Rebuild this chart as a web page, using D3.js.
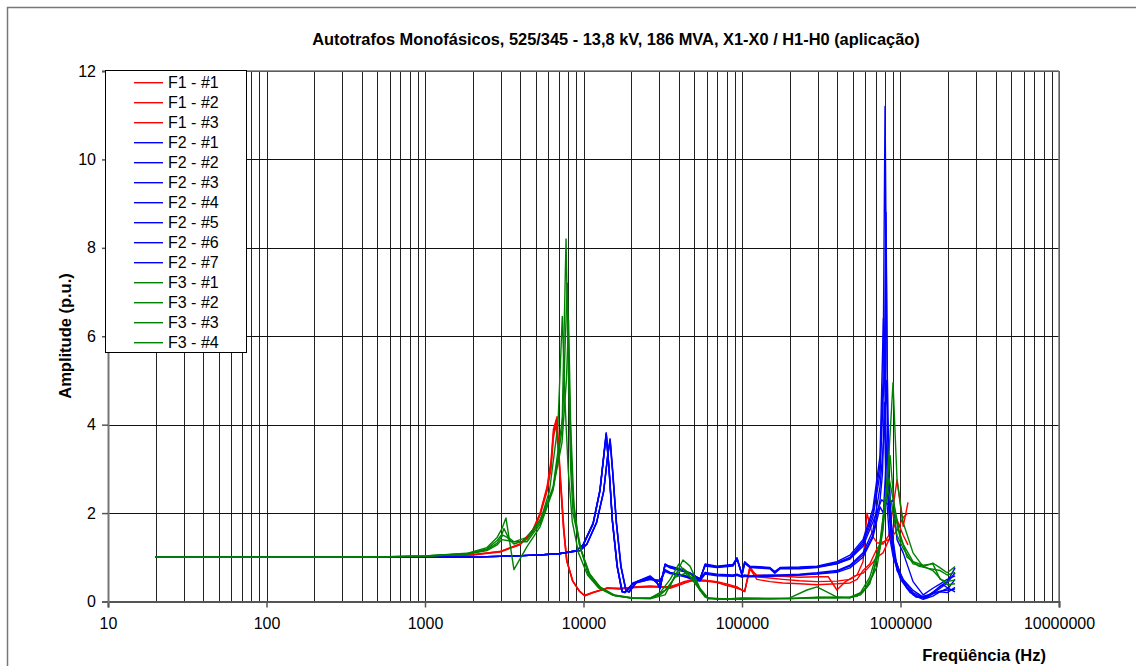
<!DOCTYPE html>
<html><head><meta charset="utf-8">
<script src="https://cdn.jsdelivr.net/npm/d3@7"></script>
<style>body{margin:0;background:#fff;} svg{display:block;font-family:"Liberation Sans",Arial,sans-serif;}</style>
</head><body><svg id="c" width="1136" height="666"></svg>
<script>
const chartTitle = "Autotrafos Monofásicos, 525/345 - 13,8 kV, 186 MVA, X1-X0 / H1-H0 (aplicação)";
const xTitle = "Freqüência (Hz)";
const yTitle = "Amplitude (p.u.)";
const xTickValues = [10, 100, 1000, 10000, 100000, 1000000, 10000000];
const yTickValues = [0, 2, 4, 6, 8, 10, 12];
const seriesNames = ["F1 - #1","F1 - #2","F1 - #3","F2 - #1","F2 - #2","F2 - #3","F2 - #4","F2 - #5","F2 - #6","F2 - #7","F3 - #1","F3 - #2","F3 - #3","F3 - #4"];
const seriesGroup = ["F1","F1","F1","F2","F2","F2","F2","F2","F2","F2","F3","F3","F3","F3"];

// [frequency Hz, amplitude p.u.]
const F1_1 = [[20,1],[100,1],[300,1],[1000,1.02],[2000,1.06],[2970,1.13],[3970,1.3],[4790,1.62],[5320,2.0],[5890,2.6],[6240,3.2],[6460,3.9],[6810,4.18],[7100,3.0],[7540,1.6],[7870,0.9],[8590,0.45],[9500,0.22],[10200,0.13],[11500,0.2],[14100,0.31],[17000,0.29],[20500,0.33],[26300,0.35],[30400,0.33],[35200,0.3],[42400,0.4],[49100,0.49],[58500,0.47],[69500,0.45],[80000,0.4],[93000,0.33],[104000,0.22],[112000,0.79],[124000,0.56],[150000,0.53],[181000,0.5],[230000,0.47],[297000,0.45],[397000,0.46],[480000,0.5],[532000,0.6],[580000,0.9],[615000,2.0],[670000,1.46],[711000,1.33],[776000,1.3],[846000,1.5],[951000,2.75],[1040000,1.7],[1115000,2.24]];
const F1_2 = [[20,1],[100,1],[300,1],[1000,1.02],[2000,1.05],[2970,1.12],[3970,1.28],[4790,1.58],[5320,1.95],[5890,2.5],[6240,3.0],[6460,3.7],[6700,4.02],[7000,3.2],[7450,1.7],[7800,0.95],[8500,0.48],[9400,0.24],[10100,0.14],[11500,0.21],[14100,0.3],[17000,0.3],[20500,0.32],[26300,0.33],[30400,0.32],[35200,0.34],[42400,0.42],[49100,0.47],[58500,0.46],[69500,0.43],[80000,0.37],[93000,0.3],[104000,0.24],[112000,0.72],[124000,0.6],[150000,0.58],[181000,0.57],[230000,0.55],[297000,0.56],[350000,0.56],[397000,0.26],[450000,0.45],[516000,0.58],[580000,0.64],[640000,0.8],[711000,1.0],[776000,1.1],[846000,1.4],[951000,1.85],[1040000,1.5],[1115000,1.28]];
const F1_3 = [[20,1],[100,1],[300,1],[1000,1.02],[2000,1.06],[2970,1.13],[3970,1.29],[4790,1.6],[5320,1.98],[5890,2.55],[6240,3.1],[6460,3.8],[6750,4.1],[7050,3.1],[7500,1.65],[7850,0.92],[8550,0.46],[9450,0.23],[10150,0.13],[11500,0.2],[14100,0.3],[17000,0.28],[20500,0.31],[26300,0.34],[30400,0.34],[35200,0.32],[42400,0.44],[49100,0.5],[58500,0.48],[69500,0.44],[80000,0.36],[93000,0.32],[104000,0.23],[112000,0.75],[124000,0.5],[150000,0.45],[181000,0.42],[230000,0.4],[297000,0.38],[397000,0.4],[480000,0.42],[532000,0.5],[580000,0.7],[640000,0.85],[711000,1.2],[776000,1.35],[846000,1.4],[951000,1.6],[1040000,1.9],[1115000,2.0]];

const F2_1 = [[20,1],[100,1],[500,1],[1000,1],[2000,1.01],[3000,1.02],[5000,1.05],[7000,1.08],[9000,1.15],[9930,1.28],[11500,1.78],[12700,2.53],[13500,3.4],[13900,3.82],[14500,3.0],[15200,1.85],[16300,0.8],[17500,0.22],[18300,0.2],[20500,0.42],[26300,0.56],[29000,0.42],[30400,0.3],[32700,0.85],[35200,0.78],[42400,0.7],[47000,0.65],[54300,0.5],[58500,0.83],[69500,0.79],[87700,0.83],[93000,0.98],[100000,0.62],[104000,0.9],[112000,0.79],[150000,0.76],[161000,0.66],[174000,0.76],[230000,0.76],[297000,0.79],[397000,0.88],[480000,1.0],[580000,1.35],[670000,2.0],[743000,3.1],[776000,5.0],[799000,11.2],[822000,5.5],[846000,2.6],[897000,1.2],[951000,0.7],[1040000,0.49],[1200000,0.2],[1390000,0.08],[1600000,0.2],[1780000,0.35],[1970000,0.45],[2210000,0.76]];
const F2_2 = [[20,1],[100,1],[500,1],[1000,1],[2000,1.01],[3000,1.02],[5000,1.05],[7000,1.08],[9000,1.15],[9930,1.27],[11500,1.75],[12700,2.5],[13500,3.35],[13950,3.78],[14550,2.95],[15250,1.8],[16400,0.78],[17600,0.23],[18400,0.21],[20500,0.4],[26300,0.54],[29000,0.44],[30400,0.32],[32700,0.82],[35200,0.76],[42400,0.68],[47000,0.63],[54300,0.52],[58500,0.8],[69500,0.77],[87700,0.8],[93000,0.95],[100000,0.6],[104000,0.86],[112000,0.77],[150000,0.74],[161000,0.64],[174000,0.74],[230000,0.74],[297000,0.77],[397000,0.85],[480000,0.98],[580000,1.3],[670000,1.9],[743000,2.9],[790000,5.2],[810000,8.8],[830000,4.2],[860000,2.0],[920000,1.0],[1000000,0.55],[1100000,0.3],[1250000,0.12],[1450000,0.1],[1650000,0.25],[1850000,0.38],[2000000,0.3],[2210000,0.5]];
const F2_3 = [[20,1],[100,1],[500,1],[1000,1],[2000,1.01],[3000,1.02],[5000,1.05],[7000,1.08],[9500,1.15],[10500,1.3],[12100,1.8],[13400,2.5],[14200,3.3],[14700,3.68],[15300,2.9],[16100,1.8],[17200,0.8],[18500,0.25],[19300,0.22],[21600,0.45],[26300,0.58],[29000,0.45],[30400,0.28],[32700,0.83],[35200,0.8],[42400,0.72],[47000,0.62],[54300,0.48],[58500,0.85],[69500,0.8],[87700,0.84],[93000,0.99],[100000,0.6],[104000,0.88],[112000,0.8],[150000,0.77],[161000,0.68],[174000,0.77],[230000,0.78],[297000,0.8],[397000,0.9],[480000,1.05],[580000,1.4],[670000,2.1],[743000,3.3],[780000,6.4],[800000,4.5],[830000,2.4],[880000,1.3],[951000,0.8],[1040000,0.5],[1200000,0.25],[1390000,0.1],[1600000,0.18],[1780000,0.3],[1970000,0.42],[2210000,0.65]];
const F2_4 = [[20,1],[100,1],[500,1],[1000,1],[2000,1.01],[3000,1.02],[5000,1.05],[7000,1.08],[9000,1.15],[9930,1.28],[11500,1.77],[12700,2.52],[13500,3.38],[13900,3.8],[14500,2.98],[15200,1.83],[16300,0.79],[17500,0.22],[18300,0.2],[20500,0.4],[26300,0.5],[30400,0.45],[32700,0.72],[35200,0.66],[42400,0.6],[47000,0.55],[54300,0.5],[58500,0.66],[69500,0.62],[87700,0.6],[93000,0.62],[100000,0.58],[104000,0.6],[112000,0.58],[150000,0.6],[174000,0.6],[230000,0.62],[297000,0.65],[397000,0.7],[480000,0.82],[580000,1.1],[670000,1.6],[743000,2.6],[790000,3.8],[815000,5.0],[840000,3.0],[880000,1.6],[940000,0.9],[1040000,0.45],[1200000,0.15],[1390000,0.05],[1600000,0.12],[1780000,0.22],[1970000,0.2],[2210000,0.32]];
const F2_5 = [[20,1],[100,1],[500,1],[1000,1],[2000,1.01],[3000,1.02],[5000,1.05],[7000,1.08],[9500,1.15],[10500,1.29],[12100,1.78],[13400,2.48],[14200,3.28],[14750,3.66],[15350,2.88],[16150,1.78],[17300,0.78],[18600,0.24],[19400,0.21],[21600,0.43],[26300,0.5],[30400,0.48],[32700,0.7],[35200,0.65],[42400,0.58],[47000,0.52],[54300,0.48],[58500,0.64],[69500,0.6],[87700,0.58],[93000,0.6],[100000,0.56],[104000,0.58],[112000,0.57],[150000,0.58],[174000,0.59],[230000,0.6],[297000,0.63],[397000,0.68],[480000,0.8],[580000,1.05],[670000,1.5],[743000,2.3],[770000,2.9],[790000,4.5],[810000,2.5],[850000,1.5],[900000,1.0],[1000000,0.5],[1150000,0.2],[1300000,0.1],[1500000,0.15],[1700000,0.2],[1900000,0.25],[2210000,0.28]];
const F2_6 = [[20,1],[100,1],[500,1],[1000,1],[2000,1.01],[3000,1.02],[5000,1.05],[7000,1.08],[9500,1.15],[10500,1.3],[12100,1.79],[13400,2.49],[14200,3.29],[14700,3.64],[15300,2.87],[16100,1.79],[17200,0.79],[18500,0.25],[19300,0.22],[21600,0.44],[26300,0.52],[30400,0.46],[32700,0.68],[35200,0.63],[42400,0.57],[47000,0.53],[54300,0.47],[58500,0.62],[69500,0.58],[87700,0.57],[93000,0.59],[100000,0.55],[104000,0.57],[112000,0.56],[150000,0.57],[174000,0.58],[230000,0.6],[297000,0.62],[397000,0.66],[480000,0.76],[580000,1.0],[670000,1.45],[743000,2.14],[780000,2.0],[820000,3.5],[850000,2.0],[900000,1.1],[1000000,0.6],[1100000,0.3],[1250000,0.1],[1450000,0.08],[1650000,0.2],[1850000,0.25],[2000000,0.3],[2210000,0.22]];
const F2_7 = [[20,1],[100,1],[500,1],[1000,1],[2000,1.01],[3000,1.02],[5000,1.05],[7000,1.08],[9000,1.15],[9930,1.27],[11500,1.76],[12700,2.5],[13500,3.36],[13900,3.76],[14500,2.96],[15200,1.82],[16300,0.79],[17500,0.23],[18300,0.21],[20500,0.41],[26300,0.55],[29000,0.43],[30400,0.31],[32700,0.84],[35200,0.77],[42400,0.69],[47000,0.64],[54300,0.51],[58500,0.82],[69500,0.78],[87700,0.82],[93000,0.97],[100000,0.61],[104000,0.89],[112000,0.78],[150000,0.75],[161000,0.65],[174000,0.75],[230000,0.75],[297000,0.78],[397000,0.86],[480000,0.96],[580000,1.25],[670000,1.8],[760000,2.3],[830000,2.2],[897000,2.3],[951000,1.4],[1040000,1.1],[1200000,0.45],[1390000,0.15],[1600000,0.3],[1780000,0.4],[1970000,0.5],[2210000,0.58]];

const F3_1 = [[20,1],[100,1],[300,1],[500,1.01],[1000,1.03],[1840,1.09],[2460,1.22],[2850,1.45],[3060,1.65],[3240,1.89],[3440,1.3],[3640,0.72],[4400,1.24],[5320,1.69],[6430,2.52],[7320,3.88],[7760,8.2],[8000,5.5],[8300,3.0],[8590,2.0],[9500,1.24],[10800,0.65],[12700,0.33],[15600,0.15],[20500,0.08],[26300,0.08],[30400,0.15],[35200,0.35],[42400,0.94],[47000,0.8],[54300,0.3],[61000,0.08],[80000,0.06],[100000,0.08],[150000,0.07],[200000,0.08],[257000,0.26],[297000,0.33],[350000,0.2],[397000,0.1],[480000,0.1],[532000,0.12],[615000,0.33],[711000,0.79],[776000,1.62],[822000,2.75],[846000,3.36],[897000,4.95],[951000,2.75],[1040000,1.78],[1200000,1.1],[1390000,0.79],[1600000,0.87],[1780000,0.76],[1970000,0.65],[2210000,0.79]];
const F3_2 = [[20,1],[100,1],[300,1],[500,1.01],[1000,1.03],[1840,1.08],[2460,1.19],[2850,1.38],[3060,1.52],[3150,1.65],[3350,1.45],[3640,1.35],[4400,1.35],[5320,1.75],[6430,2.6],[7400,4.2],[7900,7.2],[8150,4.8],[8450,2.8],[8800,1.9],[9700,1.15],[11000,0.6],[12900,0.3],[15800,0.13],[20500,0.07],[26300,0.07],[30400,0.2],[35200,0.5],[40000,0.85],[45000,0.6],[50000,0.5],[56000,0.2],[61000,0.07],[80000,0.05],[100000,0.06],[150000,0.06],[200000,0.07],[300000,0.08],[397000,0.08],[480000,0.09],[560000,0.15],[640000,0.4],[740000,1.2],[800000,2.3],[860000,3.3],[920000,2.0],[1000000,1.4],[1200000,0.9],[1390000,0.82],[1600000,0.85],[1780000,0.5],[1970000,0.45],[2210000,0.49]];
const F3_3 = [[20,1],[100,1],[300,1],[500,1.01],[1000,1.03],[1840,1.08],[2460,1.17],[2850,1.32],[3100,1.5],[3300,1.45],[3640,1.3],[4400,1.4],[5320,1.8],[6100,2.5],[6900,4.0],[7350,6.45],[7650,4.5],[8000,3.0],[8500,1.8],[9300,1.1],[10600,0.6],[12500,0.3],[15400,0.14],[20500,0.07],[26300,0.06],[32700,0.15],[38000,0.6],[42400,0.75],[48000,0.6],[54300,0.25],[61000,0.06],[80000,0.06],[100000,0.05],[150000,0.07],[200000,0.06],[300000,0.09],[397000,0.1],[480000,0.08],[560000,0.2],[640000,0.55],[740000,1.3],[820000,2.6],[880000,2.2],[950000,1.5],[1040000,1.2],[1200000,0.85],[1390000,0.8],[1600000,0.7],[1780000,0.52],[1970000,0.38],[2210000,0.4]];
const F3_4 = [[20,1],[100,1],[300,1],[500,1.01],[1000,1.02],[1840,1.07],[2460,1.15],[2850,1.28],[3050,1.4],[3300,1.38],[3640,1.35],[4400,1.45],[5320,1.85],[6430,2.55],[7320,3.6],[7800,5.0],[8050,6.37],[8300,4.0],[8700,2.2],[9400,1.3],[10700,0.62],[12600,0.31],[15500,0.14],[20500,0.08],[26300,0.07],[32700,0.25],[38000,0.55],[45000,0.65],[52000,0.35],[58500,0.1],[70000,0.05],[100000,0.07],[150000,0.06],[200000,0.07],[300000,0.1],[397000,0.09],[480000,0.1],[580000,0.22],[670000,0.6],[760000,1.5],[846000,2.8],[900000,2.3],[980000,1.6],[1100000,1.0],[1300000,0.8],[1500000,0.75],[1780000,0.7],[1970000,0.6],[2210000,0.66]];

const seriesData = [F1_1,F1_2,F1_3,F2_1,F2_2,F2_3,F2_4,F2_5,F2_6,F2_7,F3_1,F3_2,F3_3,F3_4];
const groupColor = {F1:"#ff0000", F2:"#0000ff", F3:"#008000"};

const svg = d3.select("#c");
const W = 1136, H = 666;
const pLeft = 108, pRight = 1059, pTop = 71, pBottom = 601.5;
const x = d3.scaleLog().domain([10, 1e7]).range([pLeft, pRight]);
const y = d3.scaleLinear().domain([0, 12]).range([pBottom, pTop]);

// outer frame
svg.append("rect").attr("x",7.5).attr("y",7.5).attr("width",W).attr("height",H)
  .attr("fill","none").attr("stroke","#777").attr("stroke-width",1.5);

// title
svg.append("text").attr("x",616).attr("y",45).attr("text-anchor","middle")
  .attr("font-weight","bold").attr("font-size",16.4).text(chartTitle);

// grid
const gridVals = [];
for (let d = 10; d < 1e7; d *= 10) for (let k = 1; k < 10; k++) gridVals.push(k*d);
gridVals.push(1e7);
const g = svg.append("g");
g.selectAll("line.v").data(gridVals).join("line")
  .attr("x1", d => Math.round(x(d))+0.5).attr("x2", d => Math.round(x(d))+0.5)
  .attr("y1", pTop).attr("y2", pBottom)
  .attr("stroke", "#222").attr("stroke-width", 1);
g.selectAll("line.h").data(yTickValues.filter(v => v > 0)).join("line")
  .attr("x1", pLeft).attr("x2", pRight)
  .attr("y1", d => Math.round(y(d))+0.5).attr("y2", d => Math.round(y(d))+0.5)
  .attr("stroke", "#111").attr("stroke-width", 1);
svg.append("line").attr("x1",pLeft).attr("x2",pRight).attr("y1",pTop).attr("y2",pTop).attr("stroke","#777").attr("stroke-width",1.5);
svg.append("line").attr("x1",pRight).attr("x2",pRight).attr("y1",pTop).attr("y2",pBottom).attr("stroke","#777").attr("stroke-width",1.5);

// axes
const xAxis = d3.axisBottom(x).tickValues(xTickValues).tickFormat(d3.format("d")).tickSize(6).tickPadding(10);
const gx = svg.append("g").attr("transform",`translate(0,${pBottom})`).call(xAxis);
gx.select(".domain").attr("stroke","#555").attr("stroke-width",2);
gx.selectAll(".tick line").attr("stroke","#555").attr("stroke-width",1.5);
gx.selectAll("text").attr("font-size",16).attr("fill","#000").attr("font-family","Liberation Sans, Arial, sans-serif");

const yAxis = d3.axisLeft(y).tickValues(yTickValues).tickSize(6).tickPadding(6);
const gy = svg.append("g").attr("transform",`translate(${pLeft},0)`).call(yAxis);
gy.select(".domain").attr("stroke","#777").attr("stroke-width",2);
gy.selectAll(".tick line").attr("stroke","#555").attr("stroke-width",1.5);
gy.selectAll("text").attr("font-size",16).attr("fill","#000").attr("font-family","Liberation Sans, Arial, sans-serif");

// series
const line = d3.line().x(d => x(d[0])).y(d => y(d[1]));
svg.append("g").selectAll("path").data(seriesData).join("path")
  .attr("d", line).attr("fill","none")
  .attr("stroke", (d,i) => groupColor[seriesGroup[i]])
  .attr("stroke-width", 1.4).attr("stroke-linejoin","round");

// axis titles
svg.append("text").attr("transform","translate(71,336) rotate(-90)").attr("text-anchor","middle")
  .attr("font-weight","bold").attr("font-size",16.5).text(yTitle);
svg.append("text").attr("x",1046).attr("y",661).attr("text-anchor","end")
  .attr("font-weight","bold").attr("font-size",16.5).text(xTitle);

// legend
const lg = svg.append("g");
lg.append("rect").attr("x",105.5).attr("y",70.5).attr("width",141).attr("height",282)
  .attr("fill","#fff").attr("stroke","#000").attr("stroke-width",1);
seriesNames.forEach((n,i) => {
  const yy = 82.7 + 20*i;
  lg.append("line").attr("x1",134).attr("x2",163).attr("y1",yy).attr("y2",yy)
    .attr("stroke", groupColor[seriesGroup[i]]).attr("stroke-width",1.4);
  lg.append("text").attr("x",168).attr("y",yy).attr("dy","0.36em").attr("font-size",16).text(n);
});
</script></body></html>
